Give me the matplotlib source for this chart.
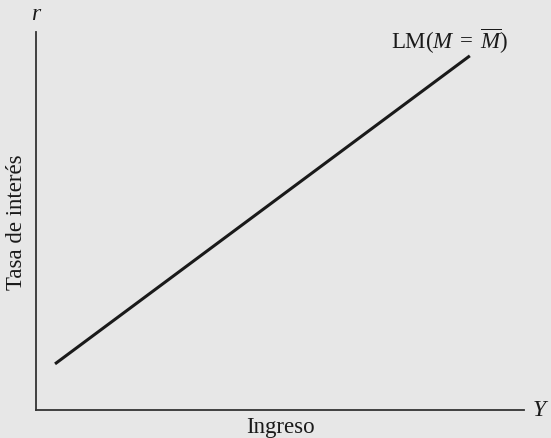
import matplotlib
matplotlib.use("Agg")
import matplotlib.pyplot as plt

# curva LM (extremos de la recta)
ingreso = [0.39, 8.89]
tasa = [1.22, 9.37]
curve_label = r"LM($M\;=\;\overline{M}$)"
x_label = "Ingreso"
y_label = "Tasa de interés"

plt.rcParams["font.family"] = ["Liberation Serif", "DejaVu Serif"]
plt.rcParams["mathtext.fontset"] = "custom"
plt.rcParams["mathtext.rm"] = "Liberation Serif"
plt.rcParams["mathtext.it"] = "Liberation Serif:italic"

bg = "#e7e7e7"
fig = plt.figure(figsize=(5.51, 4.39), dpi=100, facecolor=bg)
ax = fig.add_axes([36 / 551, 1 - 411 / 439, 488 / 551, 378 / 439])
ax.set_facecolor(bg)
ax.set_xlim(0, 10)
ax.set_ylim(0, 10)

ax.plot(ingreso, tasa, color="#1a1a1a", lw=2.2, solid_capstyle="butt")

for s in ["top", "right"]:
    ax.spines[s].set_visible(False)
for s in ["left", "bottom"]:
    ax.spines[s].set_color("#333333")
    ax.spines[s].set_linewidth(1.3)
ax.set_xticks([])
ax.set_yticks([])

fig.text(450 / 551, 1 - 41 / 439, curve_label, fontsize=16.5,
         ha="center", va="center", color="#1a1a1a")
fig.text(37 / 551, 1 - 15 / 439, r"$r$", fontsize=17, ha="center", va="center", color="#1a1a1a")
fig.text(541 / 551, 1 - 411 / 439, r"$Y$", fontsize=17, ha="center", va="center", color="#1a1a1a")
fig.text(280 / 551, 1 - 428 / 439, x_label, fontsize=16.5, ha="center", va="center", color="#1a1a1a")
fig.text(17 / 551, 1 - 222 / 439, y_label, fontsize=16.5, ha="center", va="center",
         rotation=90, color="#1a1a1a")

fig.savefig("out.png", dpi=100, facecolor=bg)
